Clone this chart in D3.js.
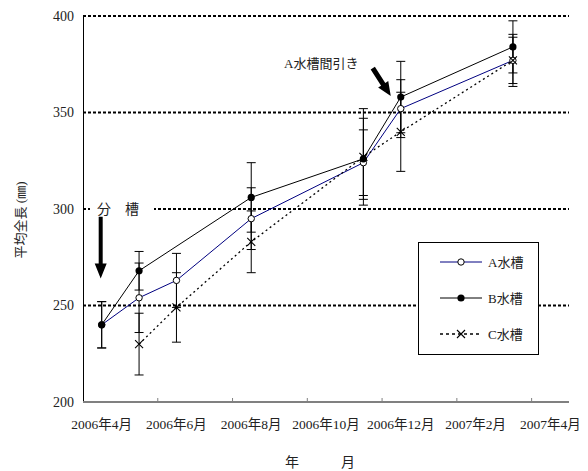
<!DOCTYPE html>
<html>
<head>
<meta charset="utf-8">
<script src="https://cdn.jsdelivr.net/npm/d3@7"></script>
<style>
  body { margin: 0; background: #fff; }
  text { font-family: "Liberation Serif", "Noto Sans CJK JP", serif; fill: #222; }
</style>
</head>
<body>
<div id="chart"></div>
<script>
// months on the date axis (one slot per month)
const months = ["2006年4月", "2006年5月", "2006年6月", "2006年7月", "2006年8月", "2006年9月",
  "2006年10月", "2006年11月", "2006年12月", "2007年1月", "2007年2月", "2007年3月", "2007年4月"];
const tickLabels = ["2006年4月", "2006年6月", "2006年8月", "2006年10月", "2006年12月", "2007年2月", "2007年4月"];
const yTicks = [200, 250, 300, 350, 400];
const gridValues = [250, 300, 350, 400];

// sampling dates
const sampleMonths = ["2006年4月", "2006年5月", "2006年6月", "2006年8月", "2006年11月", "2006年12月", "2007年3月"];

// mean total length (mm) and error (±)
const tankA = [240, 254, 263, 295, 324, 352, 377];
const tankAErr = [12, 18, 14, 16, 17, 15, 13.5];
const tankB = [240, 268, null, 306, 326, 358, 384];
const tankBErr = [12, 10, null, 18, 21, 18.5, 13.5];
const tankC = [null, 230, 249, 283, 327, 340, 377];
const tankCErr = [null, 16, 18, 16, 25, 20.5, 12];

const width = 588, height = 471;

const svg = d3.select("#chart").append("svg")
  .attr("width", width)
  .attr("height", height);

const x = d3.scaleBand().domain(months).range([83, 569]).padding(0);
const y = d3.scaleLinear().domain([200, 400]).range([402, 16]);
const cx = m => x(m) + x.bandwidth() / 2;

// gridlines (dotted)
svg.append("g").selectAll("line")
  .data(gridValues)
  .join("line")
  .attr("x1", 83).attr("x2", 569)
  .attr("y1", d => y(d)).attr("y2", d => y(d))
  .attr("stroke", "#000")
  .attr("stroke-width", 2)
  .attr("stroke-dasharray", "3,2");

// y axis
const yAxis = svg.append("g")
  .attr("transform", "translate(83,0)")
  .call(d3.axisLeft(y).tickValues(yTicks).tickSize(0).tickSizeOuter(0).tickPadding(9));
yAxis.attr("font-family", null);
yAxis.select(".domain").attr("stroke", "#000").attr("stroke-width", 1);
yAxis.selectAll("text")
  .attr("font-size", 14)
  .attr("fill", "#222");

// x axis (month slots, ticks at slot start every 2 months)
svg.append("line")
  .attr("x1", 83).attr("x2", 569)
  .attr("y1", y(200)).attr("y2", y(200))
  .attr("stroke", "#808080")
  .attr("stroke-width", 2);

svg.append("g").selectAll("line")
  .data(tickLabels.slice(1))
  .join("line")
  .attr("x1", d => x(d)).attr("x2", d => x(d))
  .attr("y1", y(200)).attr("y2", y(200) - 4)
  .attr("stroke", "#808080");

svg.append("g").selectAll("text")
  .data(tickLabels)
  .join("text")
  .attr("x", d => cx(d))
  .attr("y", 429)
  .attr("text-anchor", "middle")
  .attr("font-size", 13.5)
  .text(d => d);

// axis titles
svg.append("text")
  .attr("x", 285).attr("y", 467)
  .attr("font-size", 14)
  .text("年　　　月");

svg.append("text")
  .attr("transform", "translate(25,220) rotate(-90)")
  .attr("text-anchor", "middle")
  .attr("font-size", 13)
  .text("平均全長 (㎜)");

// series
const series = [
  { name: "A水槽", values: tankA, err: tankAErr, color: "#000080", dash: null, marker: "open" },
  { name: "B水槽", values: tankB, err: tankBErr, color: "#000", dash: null, marker: "filled" },
  { name: "C水槽", values: tankC, err: tankCErr, color: "#000", dash: "2,3", marker: "x" }
];
series.forEach(s => {
  s.points = sampleMonths.map((m, i) => ({ m, v: s.values[i], e: s.err[i] })).filter(p => p.v != null);
});

// error bars
const capW = 4.5;
series.forEach(s => {
  const g = svg.append("g").attr("stroke", "#000").attr("stroke-width", 1);
  g.selectAll(".stem").data(s.points).join("line")
    .attr("x1", d => cx(d.m)).attr("x2", d => cx(d.m))
    .attr("y1", d => y(d.v + d.e)).attr("y2", d => y(d.v - d.e));
  g.selectAll(".capHi").data(s.points).join("line")
    .attr("x1", d => cx(d.m) - capW).attr("x2", d => cx(d.m) + capW)
    .attr("y1", d => y(d.v + d.e)).attr("y2", d => y(d.v + d.e));
  g.selectAll(".capLo").data(s.points).join("line")
    .attr("x1", d => cx(d.m) - capW).attr("x2", d => cx(d.m) + capW)
    .attr("y1", d => y(d.v - d.e)).attr("y2", d => y(d.v - d.e));
});

// lines
const line = d3.line().x(d => cx(d.m)).y(d => y(d.v));
series.forEach(s => {
  svg.append("path")
    .datum(s.points)
    .attr("d", line)
    .attr("fill", "none")
    .attr("stroke", s.color)
    .attr("stroke-width", s.dash ? 1.3 : 1)
    .attr("stroke-dasharray", s.dash);
});

// markers
function drawMarker(g, type, px, py) {
  if (type === "open") {
    g.append("circle").attr("cx", px).attr("cy", py).attr("r", 3.2)
      .attr("fill", "#fff").attr("stroke", "#000").attr("stroke-width", 1);
  } else if (type === "filled") {
    g.append("circle").attr("cx", px).attr("cy", py).attr("r", 3.6)
      .attr("fill", "#000");
  } else {
    const r = 4;
    g.append("path")
      .attr("d", `M${px - r},${py - r}L${px + r},${py + r}M${px - r},${py + r}L${px + r},${py - r}`)
      .attr("stroke", "#000").attr("stroke-width", 1.1).attr("fill", "none");
  }
}
series.forEach(s => {
  const g = svg.append("g");
  s.points.forEach(p => drawMarker(g, s.marker, cx(p.m), y(p.v)));
});

// annotation: 分槽
svg.append("rect")
  .attr("x", 90).attr("y", y(300) - 6).attr("width", 64).attr("height", 12)
  .attr("fill", "#fff");
svg.append("text")
  .attr("x", 97).attr("y", y(300) + 5)
  .attr("font-size", 14)
  .style("font-family", "'Noto Sans CJK JP', sans-serif")
  .text("分　槽");

// thick arrow helper
function arrow(x1, y1, x2, y2, shaft, head, headLen) {
  const dx = x2 - x1, dy = y2 - y1, len = Math.hypot(dx, dy);
  const ux = dx / len, uy = dy / len, nx = -uy, ny = ux;
  const bx = x2 - ux * headLen, by = y2 - uy * headLen;
  const pts = [
    [x1 + nx * shaft / 2, y1 + ny * shaft / 2],
    [bx + nx * shaft / 2, by + ny * shaft / 2],
    [bx + nx * head / 2, by + ny * head / 2],
    [x2, y2],
    [bx - nx * head / 2, by - ny * head / 2],
    [bx - nx * shaft / 2, by - ny * shaft / 2],
    [x1 - nx * shaft / 2, y1 - ny * shaft / 2]
  ];
  svg.append("path").attr("d", "M" + pts.join("L") + "Z").attr("fill", "#000");
}

arrow(cx("2006年4月") - 1, y(296), cx("2006年4月") - 1, y(264), 4, 12, 15);
arrow(cx("2006年12月") - 28, y(373), cx("2006年12月") - 10, y(358.5), 5, 12, 14);

svg.append("text")
  .attr("x", 284).attr("y", 68)
  .attr("font-size", 13)
  .text("A水槽間引き");

// legend
const lg = svg.append("g");
lg.append("rect")
  .attr("x", 418.5).attr("y", 242.5).attr("width", 120).attr("height", 112)
  .attr("fill", "#fff").attr("stroke", "#000").attr("stroke-width", 1);
series.forEach((s, i) => {
  const ly = 262 + i * 36;
  lg.append("line")
    .attr("x1", 440).attr("x2", 482).attr("y1", ly).attr("y2", ly)
    .attr("stroke", s.color)
    .attr("stroke-width", s.dash ? 1.5 : 1)
    .attr("stroke-dasharray", s.dash ? "3,3" : null);
  drawMarker(lg, s.marker, 461, ly);
  lg.append("text")
    .attr("x", 488).attr("y", ly + 5)
    .attr("font-size", 13)
    .text(s.name);
});
</script>
</body>
</html>
